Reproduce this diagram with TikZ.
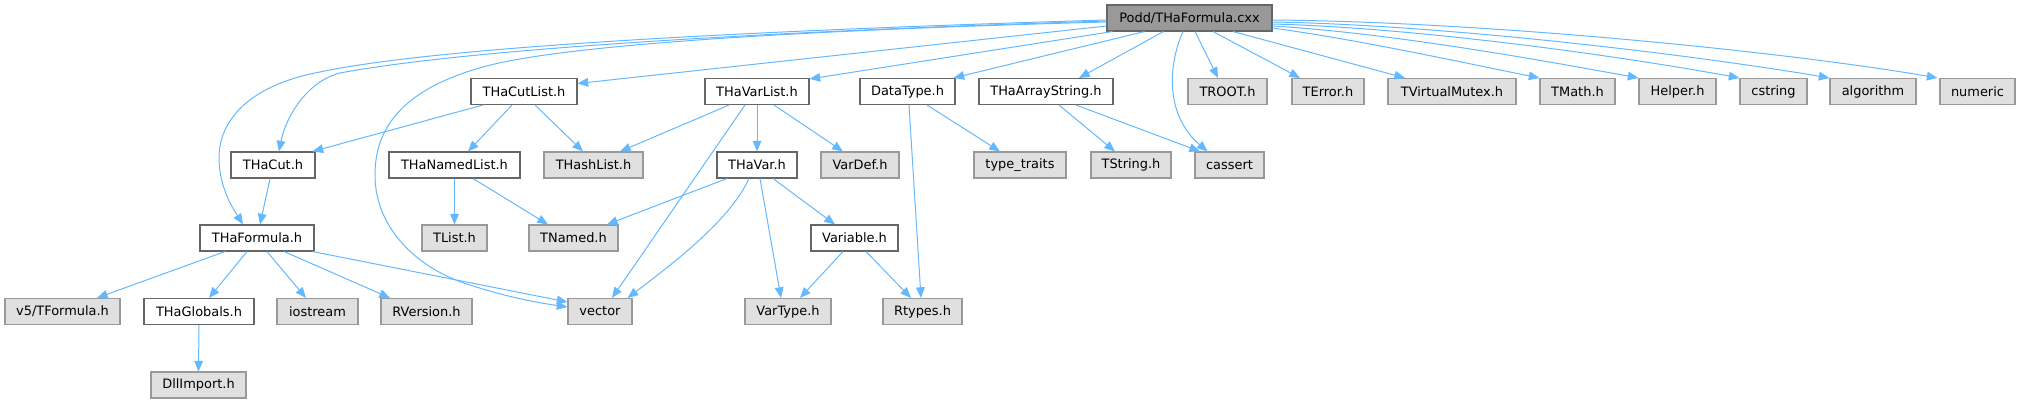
\documentclass[tikz,border=0pt]{standalone}
\usepackage{fontspec}
\setmainfont{DejaVu Sans}
\usetikzlibrary{arrows.meta,calc}
\definecolor{eblue}{HTML}{63B8FF}
\definecolor{cE0}{HTML}{E0E0E0}
\definecolor{c999}{HTML}{999999}
\definecolor{c666}{HTML}{666666}
\newcommand{\fsz}{\fontsize{9.7pt}{11pt}\selectfont}
\tikzset{
  base/.style={draw, rectangle, minimum height=19.5pt, inner sep=0pt, font=\fsz, line width=0.8pt},
  bw/.style={minimum width=#1*0.75pt},
  wnode/.style={base, fill=white, draw=c666},
  gnode/.style={base, fill=cE0, draw=c999},
  rootnode/.style={base, fill=c999, draw=c666},
  edge/.style={draw=eblue, line width=0.75pt, -{Triangle[length=8pt,width=6.5pt]}}
}
\begin{document}
\begin{tikzpicture}[x=0.75pt,y=-0.75pt]
\useasboundingbox (0,0) rectangle (2020,403);
% row 0
\node[rootnode,bw=165] (podd) at (1189.5,18) {Podd/THaFormula.cxx};
% row 1
\node[wnode,bw=106] (cutlist) at (524,91.5) {THaCutList.h};
\node[wnode,bw=104] (varlist) at (757,91.5) {THaVarList.h};
\node[wnode,bw=95] (datatype) at (907.5,91.5) {DataType.h};
\node[wnode,bw=134] (arraystr) at (1046,91.5) {THaArrayString.h};
\node[gnode,bw=79] (troot) at (1227.5,91.5) {TROOT.h};
\node[gnode,bw=72] (terror) at (1328,91.5) {TError.h};
\node[gnode,bw=128] (tvmutex) at (1452,91.5) {TVirtualMutex.h};
\node[gnode,bw=75] (tmath) at (1577.5,91.5) {TMath.h};
\node[gnode,bw=77] (helper) at (1677.5,91.5) {Helper.h};
\node[gnode,bw=67] (cstring) at (1773.5,91.5) {cstring};
\node[gnode,bw=86] (algorithm) at (1873,91.5) {algorithm};
\node[gnode,bw=75] (numeric) at (1977.5,91.5) {numeric};
% row 2
\node[wnode,bw=84] (thacut) at (273,165) {THaCut.h};
\node[wnode,bw=131] (namedlist) at (454.5,165) {THaNamedList.h};
\node[gnode,bw=99] (hashlist) at (593.5,165) {THashList.h};
\node[wnode,bw=80] (thavar) at (757,165) {THaVar.h};
\node[gnode,bw=78] (vardef) at (860,165) {VarDef.h};
\node[gnode,bw=92] (typetraits) at (1020,165) {type\_traits};
\node[gnode,bw=80] (tstring) at (1131,165) {TString.h};
\node[gnode,bw=69] (cassert) at (1229.5,165) {cassert};
% row 3
\node[wnode,bw=114] (formula) at (257,238) {THaFormula.h};
\node[gnode,bw=65] (tlist) at (454.5,238) {TList.h};
\node[gnode,bw=89] (tnamed) at (573.5,238) {TNamed.h};
\node[wnode,bw=87] (variable) at (854.5,238) {Variable.h};
% row 4
\node[gnode,bw=115] (v5) at (62.5,311.5) {v5/TFormula.h};
\node[wnode,bw=110] (globals) at (199,311.5) {THaGlobals.h};
\node[gnode,bw=81] (iostream) at (317.5,311.5) {iostream};
\node[gnode,bw=91] (rversion) at (426.5,311.5) {RVersion.h};
\node[gnode,bw=64] (vector) at (600,311.5) {vector};
\node[gnode,bw=86] (vartype) at (788,311.5) {VarType.h};
\node[gnode,bw=79] (rtypes) at (922.5,311.5) {Rtypes.h};
% row 5
\node[gnode,bw=95] (dllimport) at (198.5,385) {DllImport.h};

% edges from podd, left side
\draw[edge] ($(podd.west)+(0,2)$) .. controls (600,35) and (400,55) .. (320,72)
  .. controls (250,85) and (218,120) .. (219,160)
  .. controls (220,190) and (234,210) .. ($(formula.north)+(-14,0)$);
\draw[edge] ($(podd.west)+(0,3)$) .. controls (620,36) and (420,58) .. (340,73)
  .. controls (305,82) and (285,120) .. ($(thacut.north)+(6,0)$);
\draw[edge] ($(podd.west)+(0,4)$) .. controls (800,30) and (560,45) .. (483,67)
  .. controls (400,90) and (375,130) .. (375,175)
  .. controls (375,230) and (420,270) .. (470,285)
  .. controls (510,298) and (540,303) .. ($(vector.west)+(0,-4.5)$);
\draw[edge] ($(podd.west)+(0,8)$) -- ($(cutlist.east)+(0,-8)$);
\draw[edge] ($(podd.south west)+(6,0)$) -- ($(varlist.north east)+(0,1)$);
\draw[edge] ($(podd.south)+(-45,0)$) -- ($(datatype.north east)+(-2,0)$);
\draw[edge] ($(podd.south)+(-26,0)$) -- ($(arraystr.north)+(33,0)$);
\draw[edge] ($(podd.south)+(-6.5,0)$) .. controls (1168,65) and (1165,115) .. ($(cassert.north)+(-22,0)$);
\draw[edge] ($(podd.south)+(5.5,0)$) -- ($(troot.north)+(-9.5,0)$);
\draw[edge] ($(podd.south)+(23.5,0)$) -- ($(terror.north)+(-28,0)$);
\draw[edge] ($(podd.south)+(43.5,0)$) -- ($(tvmutex.north)+(-47,0)$);
\draw[edge] ($(podd.east)+(0,10)$) .. controls (1360,40) and (1460,62) .. (tmath.north west);
\draw[edge] ($(podd.east)+(0,8)$) .. controls (1390,33) and (1540,60) .. (helper.north west);
\draw[edge] ($(podd.east)+(0,6)$) .. controls (1420,28) and (1620,56) .. (cstring.north west);
\draw[edge] ($(podd.east)+(0,4)$) .. controls (1450,25) and (1700,56) .. (algorithm.north west);
\draw[edge] ($(podd.east)+(0,2)$) .. controls (1500,22) and (1800,54) .. ($(numeric.north west)+(-2,0)$);

% THaCutList
\draw[edge] ($(cutlist.south)+(-41,0)$) -- ($(thacut.north east)+(-3,0)$);
\draw[edge] ($(cutlist.south)+(-12,0)$) -- ($(namedlist.north)+(13.5,0)$);
\draw[edge] ($(cutlist.south)+(11,0)$) -- ($(hashlist.north)+(-10.5,0)$);
% THaCut
\draw[edge] ($(thacut.south)+(-3,0)$) -- ($(formula.north)+(3,0)$);
% THaNamedList
\draw[edge] (namedlist.south) -- (tlist.north);
\draw[edge] ($(namedlist.south)+(18.5,0)$) -- ($(tnamed.north)+(-25.5,0)$);
% THaFormula
\draw[edge] ($(formula.south)+(-32,0)$) -- ($(v5.north)+(34.5,0)$);
\draw[edge] ($(formula.south)+(-10,0)$) -- ($(globals.north)+(10,0)$);
\draw[edge] ($(formula.south)+(10,0)$) -- ($(iostream.north)+(-11.5,0)$);
\draw[edge] ($(formula.south)+(27,0)$) -- ($(rversion.north)+(-36.5,0)$);
\draw[edge] ($(formula.south east)+(-2,0)$) -- ($(vector.west)+(0,-9.5)$);
% THaGlobals
\draw[edge] (globals.south) -- (dllimport.north);
% THaVarList
\draw[edge] ($(varlist.south)+(-28,0)$) -- ($(hashlist.north)+(26.5,0)$);
\draw[edge] ($(varlist.south)+(-12,0)$) -- ($(vector.north)+(12,0)$);
\draw[edge] (varlist.south) -- (thavar.north);
\draw[edge] ($(varlist.south)+(17,0)$) -- ($(vardef.north)+(-17,0)$);
% THaVar
\draw[edge] ($(thavar.south)+(-30,0)$) -- ($(tnamed.north)+(33.5,0)$);
\draw[edge] ($(thavar.south)+(-8,0)$) .. controls (730,220) and (675,262) .. ($(vector.north east)+(-5,0)$);
\draw[edge] ($(thavar.south)+(3,0)$) -- ($(vartype.north)+(-7,0)$);
\draw[edge] ($(thavar.south)+(16,0)$) -- ($(variable.north)+(-19.5,0)$);
% Variable
\draw[edge] ($(variable.south)+(-11.5,0)$) -- ($(vartype.north)+(12,0)$);
\draw[edge] ($(variable.south)+(11.5,0)$) -- ($(rtypes.north)+(-11.5,0)$);
% DataType
\draw[edge] ($(datatype.south)+(19.5,0)$) -- ($(typetraits.north)+(-20,0)$);
\draw[edge] ($(datatype.south)+(1.5,0)$) -- ($(rtypes.north)+(-1.5,0)$);
% THaArrayString
\draw[edge] ($(arraystr.south)+(13,0)$) -- ($(tstring.north)+(-16,0)$);
\draw[edge] ($(arraystr.south)+(30,0)$) -- ($(cassert.north)+(-29.5,0)$);
\end{tikzpicture}
\end{document}
